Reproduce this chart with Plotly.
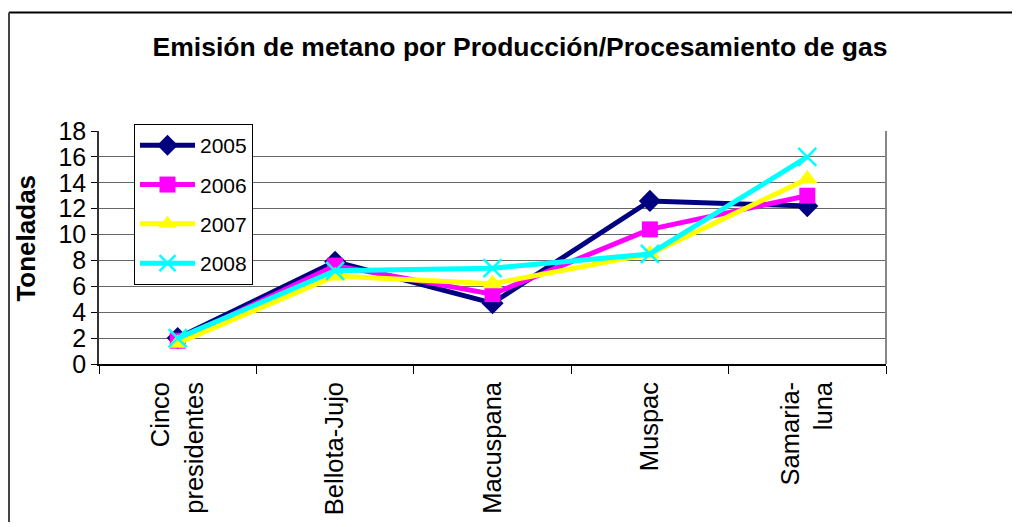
import plotly.graph_objects as go

categories = ["Cinco<br>presidentes", "Bellota-Jujo", "Macuspana", "Muspac", "Samaria-<br>luna"]
series_names = ["2005", "2006", "2007", "2008"]
v2005 = [2.0, 7.9, 4.7, 12.6, 12.2]
v2006 = [1.8, 7.6, 5.4, 10.4, 13.0]
v2007 = [1.6, 6.8, 6.2, 8.5, 14.3]
v2008 = [2.0, 7.2, 7.4, 8.5, 16.0]
y_ticks = [0, 2, 4, 6, 8, 10, 12, 14, 16, 18]

colors = ["#000080", "#FF00FF", "#FFFF00", "#00FFFF"]
symbols = ["diamond", "square", "triangle-up", "x-thin"]
msizes = [17, 16, 18, 18]

fig = go.Figure()
for i, (name, vals) in enumerate(zip(series_names, [v2005, v2006, v2007, v2008])):
    marker = dict(symbol=symbols[i], size=msizes[i], color=colors[i])
    if symbols[i] == "x-thin":
        marker["line"] = dict(color=colors[i], width=2.5)
    fig.add_trace(go.Scatter(
        x=categories, y=vals, name=name, mode="lines+markers",
        line=dict(color=colors[i], width=5),
        marker=marker, legendgroup=name,
    ))

# page has an 8px body margin; figure coords = page coords - 8
OFF = 8
W, H = 1020 - OFF, 527 - OFF
L, R, T, B = 99 - OFF, 134, 131 - OFF, 160
pw, ph = W - L - R, H - T - B

def px_x(x):
    return (x - OFF - L) / pw

def px_y(y):
    return (H - B - (y - OFF)) / ph

fig.update_layout(
    width=W, height=H,
    margin=dict(l=L, r=R, t=T, b=B),
    paper_bgcolor="white", plot_bgcolor="white",
    font=dict(family="Liberation Sans, Arial, sans-serif", color="black"),
    title=dict(text="<b>Emisión de metano por Producción/Procesamiento de gas</b>",
               x=px_x(520), xanchor="center", xref="paper",
               y=1 - (47 - OFF) / H, yanchor="middle",
               font=dict(size=26.5, color="black")),
    showlegend=True,
    legend=dict(x=px_x(134), y=px_y(124), xanchor="left", yanchor="top",
                bordercolor="black", borderwidth=1, bgcolor="white",
                font=dict(size=21, color="black"),
                traceorder="grouped", tracegroupgap=9,
                itemwidth=55),
    annotations=[
        dict(text="<b>Toneladas</b>", xref="paper", yref="paper",
             x=px_x(26), y=px_y(240), xanchor="center", yanchor="middle",
             textangle=-90, showarrow=False,
             font=dict(size=26, color="black")),
    ],
    shapes=[
        dict(type="line", xref="paper", yref="paper",
             x0=px_x(9), x1=px_x(1020), y0=px_y(11), y1=px_y(11),
             line=dict(color="black", width=2)),
        dict(type="line", xref="paper", yref="paper",
             x0=px_x(9), x1=px_x(9), y0=px_y(11), y1=px_y(527),
             line=dict(color="#444", width=2)),
        dict(type="line", xref="paper", yref="paper",
             x0=1, x1=1, y0=0, y1=1, line=dict(color="#888", width=2)),
    ],
)
fig.update_xaxes(
    type="category", tickson="boundaries", ticks="outside", ticklen=8,
    tickcolor="black", showline=True, linecolor="black", linewidth=1.5,
    tickangle=-90, tickfont=dict(size=25.5, color="black"), ticklabelstandoff=6,
    showgrid=False, range=[-0.5, 4.5],
)
fig.update_yaxes(
    range=[0, 18], tickvals=y_ticks, ticks="outside", ticklen=6,
    tickcolor="black", showline=True, linecolor="#333", linewidth=1.5,
    gridcolor="#666", gridwidth=1.2, zeroline=False,
    tickfont=dict(size=25, color="black"),
)
fig.write_html("out.html")
